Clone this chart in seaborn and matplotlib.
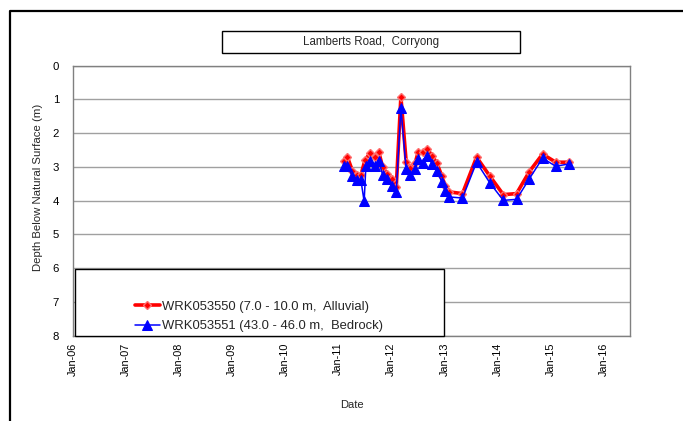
import matplotlib
matplotlib.use("Agg")
import matplotlib.pyplot as plt
import matplotlib.dates as mdates
from matplotlib.patches import Rectangle
from matplotlib.lines import Line2D
import pandas as pd
import seaborn as sns

# ---- data ----
red_dates = ["2011-02-10", "2011-03-05", "2011-04-08", "2011-05-08", "2011-06-06",
             "2011-07-04", "2011-08-08", "2011-09-10", "2011-10-06", "2011-11-03",
             "2011-12-04", "2012-01-05", "2012-02-04", "2012-03-07", "2012-04-12",
             "2012-05-09", "2012-06-13", "2012-07-05", "2012-08-08", "2012-09-06",
             "2012-10-08", "2012-11-09", "2012-12-14", "2013-01-05", "2013-02-04",
             "2013-05-05", "2013-08-10", "2013-11-09", "2014-02-10", "2014-05-12",
             "2014-08-08", "2014-11-07", "2015-02-06", "2015-05-08"]
red_depth = [2.81, 2.71, 3.11, 3.24, 3.24, 2.79, 2.59, 2.71, 2.55, 3.01,
             3.21, 3.35, 3.60, 0.92, 2.84, 3.04, 2.88, 2.55, 2.57, 2.47,
             2.67, 2.88, 3.27, 3.55, 3.74, 3.79, 2.71, 3.27, 3.82, 3.79,
             3.14, 2.62, 2.86, 2.86]

blue_dates = ["2011-02-10", "2011-03-05", "2011-04-08", "2011-05-08", "2011-06-06",
              "2011-06-28", "2011-07-10", "2011-08-08", "2011-09-10", "2011-10-06",
              "2011-11-03", "2011-12-04", "2012-01-05", "2012-02-04", "2012-03-07",
              "2012-04-12", "2012-05-09", "2012-06-13", "2012-07-05", "2012-08-08",
              "2012-09-06", "2012-10-08", "2012-11-09", "2012-12-14", "2013-01-05",
              "2013-02-04", "2013-05-05", "2013-08-10", "2013-11-09", "2014-02-10",
              "2014-05-12", "2014-08-08", "2014-11-07", "2015-02-06", "2015-05-08"]
blue_depth = [2.98, 2.98, 3.27, 3.40, 3.40, 4.02, 2.98, 2.81, 2.98, 2.81,
              3.24, 3.35, 3.55, 3.74, 1.24, 3.06, 3.24, 3.06, 2.76, 2.88,
              2.67, 2.91, 3.11, 3.45, 3.70, 3.89, 3.92, 2.86, 3.47, 3.99,
              3.96, 3.35, 2.74, 2.98, 2.91]

red_label = "WRK053550 (7.0 - 10.0 m,  Alluvial)"
blue_label = "WRK053551 (43.0 - 46.0 m,  Bedrock)"
title = "Lamberts Road,  Corryong"
year_ticks = [f"{y}-01-01" for y in range(2006, 2017)]

red_df = pd.DataFrame({"Date": pd.to_datetime(red_dates), "Depth": red_depth})
blue_df = pd.DataFrame({"Date": pd.to_datetime(blue_dates), "Depth": blue_depth})

# ---- figure ----
sns.set_theme(style="white")
plt.rcParams["font.family"] = ["Liberation Sans", "DejaVu Sans"]

fig = plt.figure(figsize=(6.83, 4.21), dpi=100)
W, H = 683, 421
ax = fig.add_axes([73 / W, 1 - 335.7 / H, (630 - 73) / W, (335.7 - 65.7) / H])

sns.lineplot(data=red_df, x="Date", y="Depth", ax=ax, color="#ff0000", lw=2.6,
             marker="D", markersize=4.5, markerfacecolor="#ff0000",
             markeredgecolor="#ff7070", markeredgewidth=1.0,
             sort=False, estimator=None, label=red_label, zorder=3)
sns.lineplot(data=blue_df, x="Date", y="Depth", ax=ax, color="#0000ff", lw=1.1,
             marker="^", markersize=6.5, markerfacecolor="#0000ff",
             markeredgecolor="#0000ff", sort=False, estimator=None,
             label=blue_label, zorder=4)

ax.set_ylim(8, 0)
ax.set_yticks(range(0, 9))
ax.set_xlim(pd.Timestamp("2006-01-01"), pd.Timestamp("2016-07-01"))
ax.set_xticks(pd.to_datetime(year_ticks))
ax.xaxis.set_major_formatter(mdates.DateFormatter("%b-%y"))
plt.setp(ax.get_xticklabels(), rotation=90)

ax.yaxis.grid(True, color="#a0a0a0", lw=1.0)
ax.xaxis.grid(False)
for s in ax.spines.values():
    s.set_color("#808080")
    s.set_linewidth(1.0)
ax.tick_params(axis="both", which="major", direction="out", length=4, width=1,
               color="#808080", labelcolor="black")
ax.tick_params(axis="x", labelsize=7.8, pad=1)
ax.tick_params(axis="y", labelsize=8.2, pad=6)
ax.set_xlabel("Date", fontsize=8)
ax.set_ylabel("Depth Below Natural Surface (m)", fontsize=8.2)
ax.xaxis.set_label_coords(0.5, (335.7 - 405) / 270, transform=ax.transAxes)
ax.yaxis.set_label_coords((38 - 73) / 557, (335.7 - 187.5) / 270, transform=ax.transAxes)
ax.xaxis.label.set_va("center")
ax.yaxis.label.set_va("center")

# legend box
ax.add_patch(Rectangle(((75 - 73) / 557, 0.0), (444 - 75) / 557, (335.7 - 269) / 270,
                       transform=ax.transAxes, facecolor="white", edgecolor="black",
                       lw=1.0, zorder=5, clip_on=False))
leg = ax.legend(loc="center left", bbox_to_anchor=((135 - 73) / 557, (335.7 - 316.5) / 270),
                frameon=False, fontsize=9.4, handlelength=1.9, handletextpad=0.15,
                borderpad=0, borderaxespad=0, labelspacing=0.55)
leg.set_zorder(6)

# title box
fig.add_artist(Rectangle((222 / W, 1 - 53.3 / H), (520 - 222) / W, 22.3 / H,
                         transform=fig.transFigure, facecolor="white",
                         edgecolor="black", lw=1.0))
fig.text(371 / W, 1 - 42.5 / H, title, ha="center", va="center", fontsize=8.3)

# chart-area border (left & top visible)
fig.add_artist(Line2D([10 / W, 10 / W, 1.0], [0.0, 1 - 11 / H, 1 - 11 / H],
                      transform=fig.transFigure, color="black", lw=1.6))

fig.savefig("out.png", dpi=100)
